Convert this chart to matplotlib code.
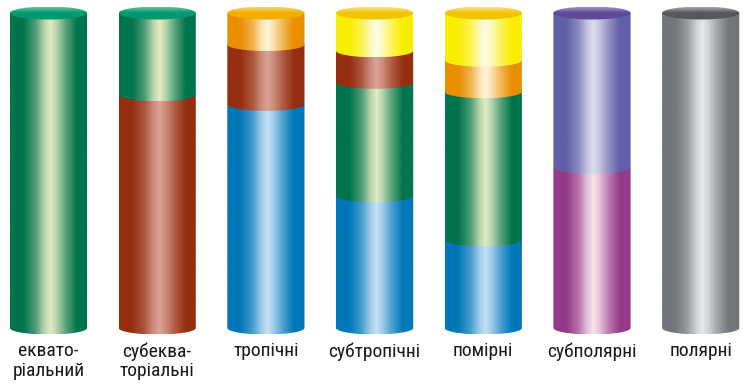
import numpy as np
import matplotlib
matplotlib.use("Agg")
import matplotlib.pyplot as plt
from matplotlib.path import Path
from matplotlib.patches import PathPatch, Ellipse
from matplotlib.colors import LinearSegmentedColormap, to_rgb

# ---- data ----
categories = ["еквато-\nріальний", "субеква-\nторіальні", "тропічні", "субтропічні",
              "помірні", "субполярні", "полярні"]
# segments listed bottom -> top: (colour key, share of column height, %)
segments = [
    [("green", 100)],
    [("brown", 74), ("green", 26)],
    [("blue", 71), ("brown", 19), ("orange", 10)],
    [("blue", 42), ("green", 36), ("brown", 10), ("yellow", 12)],
    [("blue", 28), ("green", 47), ("orange", 10), ("yellow", 15)],
    [("magenta", 51), ("purple", 49)],
    [("gray", 100)],
]

# ---- styles ----
palette = {  # edge, highlight
    "green":   ("#00744c", "#e2ecc4"),
    "brown":   ("#962e10", "#d9a396"),
    "blue":    ("#0078b8", "#c6e0f6"),
    "orange":  ("#e98f00", "#fff6da"),
    "yellow":  ("#f8ee00", "#fffbe6"),
    "purple":  ("#6060a8", "#e0dcee"),
    "magenta": ("#943a88", "#f8e2ee"),
    "gray":    ("#72767a", "#e6e8ea"),
}
top_colors = {
    "green": ("#6cc0a0", "#009a6c"),
    "orange": ("#f8d478", "#f0ae00"),
    "yellow": ("#f8e088", "#f2c400"),
    "purple": ("#a092c8", "#5c4c98"),
    "gray": ("#a4a6a8", "#55575a"),
}
label_font = ["Roboto Condensed", "PT Sans Narrow", "Liberation Sans", "DejaVu Sans"]

W, H = 743, 386
fig = plt.figure(figsize=(W / 100, H / 100), dpi=100)
ax = fig.add_axes([0, 0, 1, 1])
ax.axis("off")

bar_w = 0.71
px_per_unit = 3.15
eh = 6.5 / px_per_unit  # ellipse half-height in data units
x_left = -48.5 / 108.7
x_right = (W - 48.5) / 108.7
y_bottom = -(H - 328) / px_per_unit
y_top = 100 + 13 / px_per_unit

stops = [(0.0, 0.0), (0.17, 0.0), (0.33, 0.35), (0.44, 0.8), (0.52, 1.0),
         (0.60, 0.8), (0.72, 0.38), (0.86, 0.0), (1.0, 0.0)]


def hcmap(key):
    e, h = (np.array(to_rgb(c)) for c in palette[key])
    return LinearSegmentedColormap.from_list(
        key, [(p, tuple(e + (h - e) * f)) for p, f in stops])


def seg_path(xl, xr, y0, y1):
    t = np.linspace(np.pi, 2 * np.pi, 60)
    xc = (xl + xr) / 2
    a = (xr - xl) / 2
    arc = np.column_stack([xc + a * np.cos(t), y0 + eh * np.sin(t)])
    verts = np.vstack([[xl, y1], [xl, y0], arc, [xr, y1], [xl, y1]])
    codes = [Path.MOVETO] + [Path.LINETO] * (len(verts) - 2) + [Path.CLOSEPOLY]
    return Path(verts, codes)


grad = np.linspace(0, 1, 256).reshape(1, -1)
for i, segs in enumerate(segments):
    xl, xr = i - bar_w / 2, i + bar_w / 2
    bottom = 0
    for z, (key, val) in enumerate(segs):
        y0, y1 = bottom, bottom + val
        patch = PathPatch(seg_path(xl, xr, y0, y1 + 0.01), facecolor="none", edgecolor="none")
        ax.add_patch(patch)
        im = ax.imshow(grad, cmap=hcmap(key), extent=[xl, xr, y0 - eh, y1],
                       aspect="auto", origin="lower", zorder=2 + z, interpolation="bilinear")
        im.set_clip_path(patch)
        bottom = y1
    # top ellipse
    top_key = segs[-1][0]
    light, dark = top_colors[top_key]
    ell = Ellipse((i, bottom), bar_w, 2 * eh, facecolor="none", edgecolor="none")
    ax.add_patch(ell)
    vcm = LinearSegmentedColormap.from_list("t", [(0, dark), (0.55, dark), (1, light)])
    vg = np.linspace(0, 1, 64).reshape(-1, 1)
    im = ax.imshow(vg, cmap=vcm, extent=[xl, xr, bottom - eh, bottom + eh],
                   aspect="auto", origin="lower", zorder=20, interpolation="bilinear")
    im.set_clip_path(ell)
    ax.text(i, -4.5, categories[i], ha="center", va="top", fontsize=14,
            family=label_font, color="#1a1a1a", linespacing=1.12)

ax.set_xlim(x_left, x_right)
ax.set_ylim(y_bottom, y_top)
fig.savefig("out.png", dpi=100)
